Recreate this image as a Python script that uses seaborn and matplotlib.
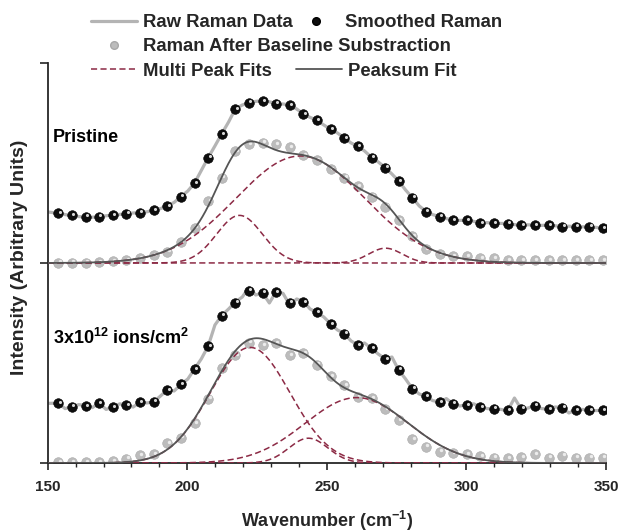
import numpy as np
import pandas as pd
import matplotlib
matplotlib.use("Agg")
import matplotlib.pyplot as plt
import matplotlib.transforms as mtransforms
from matplotlib.lines import Line2D
import seaborn as sns

# ---------------- data ----------------
wavenumber = [153.8, 158.7, 163.6, 168.4, 173.3, 178.2, 183.1, 188.0, 192.8, 197.7,
              202.6, 207.5, 212.3, 217.2, 222.1, 227.0, 231.8, 236.7, 241.6, 246.5,
              251.4, 256.2, 261.1, 266.0, 270.9, 275.7, 280.6, 285.5, 290.4, 295.2,
              300.1, 305.0, 309.9, 314.8, 319.6, 324.5, 329.4, 334.3, 339.1, 344.0, 348.9]

pristine_smoothed = [0.249, 0.239, 0.232, 0.232, 0.240, 0.247, 0.252, 0.264, 0.285, 0.332,
                     0.399, 0.527, 0.644, 0.769, 0.802, 0.810, 0.797, 0.789, 0.743, 0.715,
                     0.669, 0.624, 0.585, 0.527, 0.477, 0.410, 0.327, 0.257, 0.232, 0.215,
                     0.214, 0.200, 0.200, 0.197, 0.190, 0.190, 0.190, 0.182, 0.182, 0.182, 0.174]

pristine_baseline_sub = [0.002, 0.002, 0.002, 0.005, 0.010, 0.015, 0.024, 0.039, 0.057, 0.105,
                         0.177, 0.310, 0.427, 0.560, 0.594, 0.602, 0.594, 0.580, 0.540, 0.514,
                         0.469, 0.427, 0.385, 0.332, 0.282, 0.215, 0.135, 0.069, 0.044, 0.035,
                         0.035, 0.024, 0.024, 0.015, 0.014, 0.014, 0.014, 0.014, 0.014, 0.014, 0.014]

irradiated_smoothed = [0.299, 0.282, 0.285, 0.299, 0.279, 0.289, 0.304, 0.307, 0.365, 0.394,
                       0.469, 0.585, 0.737, 0.802, 0.862, 0.852, 0.855, 0.802, 0.805, 0.755,
                       0.695, 0.647, 0.589, 0.575, 0.520, 0.467, 0.372, 0.334, 0.305, 0.297,
                       0.290, 0.280, 0.272, 0.265, 0.272, 0.287, 0.269, 0.277, 0.265, 0.265, 0.265]

irradiated_baseline_sub = [0.004, 0.004, 0.004, 0.004, 0.009, 0.022, 0.040, 0.045, 0.099, 0.127,
                           0.199, 0.322, 0.474, 0.539, 0.602, 0.590, 0.599, 0.539, 0.549, 0.492,
                           0.435, 0.390, 0.332, 0.324, 0.269, 0.215, 0.120, 0.082, 0.057, 0.050,
                           0.045, 0.035, 0.027, 0.024, 0.029, 0.044, 0.027, 0.037, 0.027, 0.027, 0.027]

raw_wavenumber = [150.0, 153.8, 156.2, 158.7, 161.1, 163.6, 166.0, 168.4, 170.9, 173.3,
                  175.8, 178.2, 180.6, 183.1, 185.5, 188.0, 190.4, 192.8, 195.3, 197.7,
                  200.2, 202.6, 205.0, 207.5, 209.9, 212.3, 214.8, 217.2, 219.7, 222.1,
                  224.5, 227.0, 229.4, 231.8, 234.3, 236.7, 239.2, 241.6, 244.0, 246.5,
                  248.9, 251.4, 253.8, 256.2, 258.7, 261.1, 263.5, 266.0, 268.4, 270.9,
                  273.3, 275.7, 278.2, 280.6, 283.1, 285.5, 287.9, 290.4, 292.8, 295.2,
                  297.7, 300.1, 302.6, 305.0, 307.4, 309.9, 312.3, 314.8, 317.2, 319.6,
                  322.1, 324.5, 326.9, 329.4, 331.8, 334.3, 336.7, 339.1, 341.6, 344.0,
                  346.5, 348.9, 349.8]

pristine_raw = [0.255, 0.249, 0.242, 0.238, 0.232, 0.231, 0.229, 0.232, 0.236, 0.240,
                0.243, 0.247, 0.250, 0.252, 0.256, 0.263, 0.272, 0.285, 0.303, 0.332,
                0.360, 0.400, 0.462, 0.527, 0.585, 0.645, 0.705, 0.770, 0.790, 0.800,
                0.808, 0.812, 0.806, 0.797, 0.795, 0.790, 0.770, 0.745, 0.728, 0.713,
                0.690, 0.668, 0.650, 0.625, 0.600, 0.583, 0.560, 0.528, 0.505, 0.477,
                0.445, 0.410, 0.365, 0.327, 0.285, 0.258, 0.242, 0.232, 0.222, 0.215,
                0.213, 0.214, 0.208, 0.201, 0.202, 0.199, 0.198, 0.197, 0.192, 0.190,
                0.191, 0.190, 0.188, 0.190, 0.186, 0.182, 0.184, 0.182, 0.181, 0.182,
                0.178, 0.174, 0.175]

irradiated_raw = [0.298, 0.300, 0.272, 0.280, 0.292, 0.287, 0.277, 0.300, 0.268, 0.278,
                  0.296, 0.288, 0.280, 0.304, 0.300, 0.306, 0.335, 0.366, 0.360, 0.393,
                  0.420, 0.470, 0.520, 0.585, 0.690, 0.737, 0.770, 0.805, 0.830, 0.878,
                  0.840, 0.850, 0.800, 0.856, 0.848, 0.790, 0.820, 0.808, 0.770, 0.752,
                  0.730, 0.695, 0.665, 0.648, 0.610, 0.590, 0.600, 0.572, 0.545, 0.520,
                  0.530, 0.465, 0.420, 0.372, 0.345, 0.333, 0.312, 0.305, 0.322, 0.296,
                  0.285, 0.292, 0.296, 0.280, 0.272, 0.272, 0.268, 0.262, 0.325, 0.270,
                  0.275, 0.287, 0.272, 0.270, 0.280, 0.277, 0.250, 0.266, 0.268, 0.264,
                  0.262, 0.265, 0.265]

# Gaussian peak parameters of the multi-peak fits (centre, height, sigma)
pristine_peak_centers = [218.7, 240.5, 271.0]
pristine_peak_heights = [0.238, 0.535, 0.074]
pristine_peak_sigmas = [8.2, 23.0, 6.0]

irradiated_peak_centers = [222.5, 260.7, 243.4]
irradiated_peak_heights = [0.578, 0.327, 0.124]
irradiated_peak_sigmas = [14.3, 18.5, 7.0]

panel_labels = ["Pristine", "3x10$^{12}$ ions/cm$^{2}$"]
x_ticks = [150, 200, 250, 300, 350]

# ---------------- style ----------------
sns.set_style("ticks")
plt.rcParams["font.family"] = ["Liberation Sans", "DejaVu Sans"]
plt.rcParams["font.weight"] = "bold"
plt.rcParams["mathtext.default"] = "regular"

RAW_C = "#b4b4b4"
BLACK_C = "#0d0d0d"
GRAY_C = "#bcbcbc"
FIT_C = "#8c2a45"
SUM_C = "#555555"
FIT_DASH = (4, 2.2)

fig = plt.figure(figsize=(6.22, 5.32), dpi=100)
ax = fig.add_axes([0.0767, 0.1297, 0.8976, 0.7519])

hl_off = mtransforms.offset_copy(ax.transData, fig=fig, x=1.0, y=1.0, units="points")

fit_x = np.linspace(150, 350, 801)

panels = [
    (1.0, pristine_raw, pristine_smoothed, pristine_baseline_sub,
     pristine_peak_centers, pristine_peak_heights, pristine_peak_sigmas, panel_labels[0], 1.626),
    (0.0, irradiated_raw, irradiated_smoothed, irradiated_baseline_sub,
     irradiated_peak_centers, irradiated_peak_heights, irradiated_peak_sigmas, panel_labels[1], 0.625),
]

for offset, raw, smooth, bsub, cens, hts, sigs, label, label_y in panels:
    raw_df = pd.DataFrame({"x": raw_wavenumber, "y": np.array(raw) + offset})
    sns.lineplot(data=raw_df, x="x", y="y", ax=ax, color=RAW_C, lw=2.3,
                 estimator=None, sort=False, zorder=1)

    sm_df = pd.DataFrame({"x": wavenumber, "y": np.array(smooth) + offset})
    sns.scatterplot(data=sm_df, x="x", y="y", ax=ax, color=BLACK_C, s=48,
                    edgecolor="#000000", linewidth=0.4, zorder=2)
    ax.scatter(sm_df["x"], sm_df["y"], s=5, color="#d8d8d8", linewidths=0,
               transform=hl_off, zorder=2.1)

    bs_df = pd.DataFrame({"x": wavenumber, "y": np.array(bsub) + offset})
    sns.scatterplot(data=bs_df, x="x", y="y", ax=ax, color=GRAY_C, s=48,
                    edgecolor="#a8a8a8", linewidth=0.4, zorder=2)
    ax.scatter(bs_df["x"], bs_df["y"], s=6, color="#ececec", linewidths=0,
               transform=hl_off, zorder=2.1)

    total = np.zeros_like(fit_x)
    for c, h, sgm in zip(cens, hts, sigs):
        g = h * np.exp(-((fit_x - c) ** 2) / (2 * sgm ** 2))
        total += g
        pk_df = pd.DataFrame({"x": fit_x, "y": g + offset})
        sns.lineplot(data=pk_df, x="x", y="y", ax=ax, color=FIT_C, lw=1.1,
                     dashes=False, estimator=None, zorder=3,
                     linestyle=(0, FIT_DASH))
    sum_df = pd.DataFrame({"x": fit_x, "y": total + offset})
    sns.lineplot(data=sum_df, x="x", y="y", ax=ax, color=SUM_C, lw=1.3,
                 estimator=None, zorder=4)

    ax.text(151.9, label_y, label, fontsize=13, fontweight="bold",
            ha="left", va="center", color="black")

# axes
ax.set_xlim(150, 350)
ax.set_ylim(0, 2)
ax.set_xticks(x_ticks)
ax.set_xticks(np.arange(150, 351, 10), minor=True)
ax.set_yticks([0, 1, 2])
ax.set_yticklabels([])
ax.tick_params(axis="x", which="major", direction="out", length=5, width=1.2,
               labelsize=11, pad=7)
ax.tick_params(axis="x", which="minor", direction="out", length=3, width=1.0)
ax.tick_params(axis="y", which="major", direction="out", length=6, width=1.2)
for lab in ax.get_xticklabels():
    lab.set_fontweight("bold")
sns.despine(ax=ax)
for sp in ("left", "bottom"):
    ax.spines[sp].set_linewidth(1.3)
ax.set_xlabel("Wavenumber (cm$^{-1}$)", fontsize=13, fontweight="bold", labelpad=11)
ax.set_ylabel("Intensity (Arbitrary Units)", fontsize=14, fontweight="bold", labelpad=3)
ax.yaxis.set_label_coords(-0.036, 0.513)

# legends
raw_h = Line2D([], [], color=RAW_C, lw=2.3)
sm_h = Line2D([], [], ls="none", marker="o", ms=5.5, mfc=BLACK_C, mec="#000000")
bs_h = Line2D([], [], ls="none", marker="o", ms=5.5, mfc=GRAY_C, mec="#a8a8a8")
fit_h = Line2D([], [], color=FIT_C, lw=1.1, ls=(0, FIT_DASH))
sum_h = Line2D([], [], color=SUM_C, lw=1.3)

common = dict(frameon=False, borderpad=0, borderaxespad=0, handlelength=2.5,
              handletextpad=0.32, prop={"weight": "bold", "size": 13.3},
              loc="center left")
W, H = 622.0, 532.0
leg1 = fig.legend([raw_h, sm_h], ["Raw Raman Data", "Smoothed Raman"], ncol=2,
                  columnspacing=0.0, bbox_to_anchor=(90.7 / W, 1 - 22.7 / H), **common)
leg2 = fig.legend([bs_h], ["Raman After Baseline Substraction"], ncol=1,
                  bbox_to_anchor=(90.7 / W, 1 - 46.7 / H), **common)
leg3 = fig.legend([fit_h, sum_h], ["Multi Peak Fits", "Peaksum Fit"], ncol=2,
                  columnspacing=1.3, bbox_to_anchor=(90.7 / W, 1 - 71.0 / H), **common)

fig.savefig("out.png", dpi=100)
